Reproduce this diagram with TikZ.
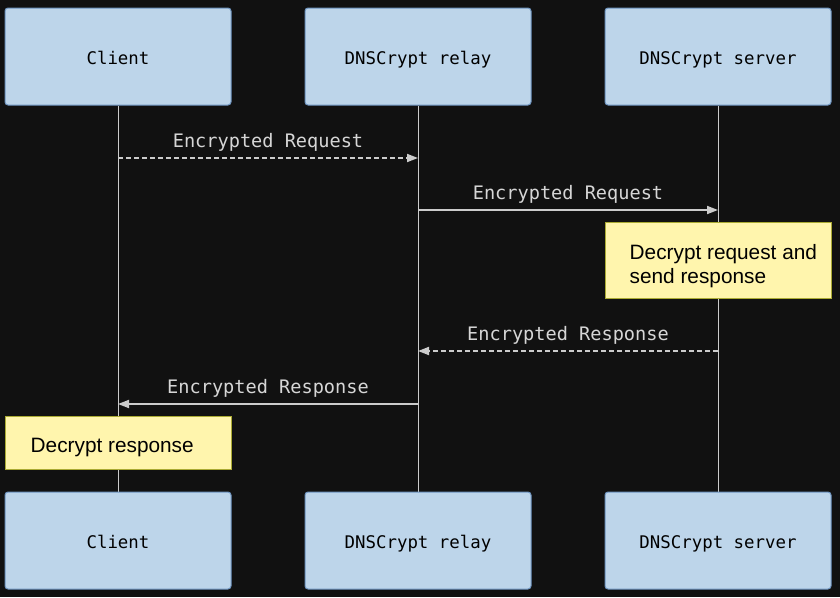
\documentclass[tikz,border=0pt]{standalone}
\usepackage{fontspec}
\setmainfont{Liberation Sans}
\setmonofont{DejaVu Sans Mono}
\usetikzlibrary{arrows.meta}
\pgfdeclarelayer{bg}
\pgfsetlayers{bg,main}
\definecolor{bgdark}{HTML}{111111}
\definecolor{actorfill}{HTML}{BDD5EA}
\definecolor{actorline}{HTML}{6E94C0}
\definecolor{notefill}{HTML}{FFF5AD}
\definecolor{noteline}{HTML}{AAAA33}
\definecolor{msgline}{HTML}{CCCCCC}
\tikzset{actor/.style={draw=actorline, fill=actorfill, line width=1pt, rounded corners=3pt,
        minimum width=226pt, minimum height=97pt, inner sep=0pt, text height=16pt, text depth=0pt,
        font=\ttfamily\fontsize{17.4}{20}\selectfont}}
\tikzset{note/.style={draw=noteline, fill=notefill, line width=1pt, minimum width=226pt, inner sep=0pt}}
\tikzset{notetext/.style={anchor=west, align=left, inner sep=0pt, text=black,
        font=\fontsize{20.8}{23.5}\selectfont}}
\tikzset{life/.style={draw=msgline, line width=0.7pt}}
\tikzset{msg/.style={draw=msgline, line width=1.8pt, -{Triangle[length=11pt, width=8pt]}}}
\tikzset{reply/.style={msg, dash pattern=on 5pt off 3pt}}
\tikzset{msglabel/.style={text=msgline!80!white, inner sep=0pt, font=\ttfamily\fontsize{18.6}{22}\selectfont}}

\begin{document}
\begin{tikzpicture}[x=1pt, y=-1pt]
    \begin{pgfonlayer}{bg}
        \fill[bgdark] (0,0) rectangle (840,597);
    \end{pgfonlayer}
    \useasboundingbox (0,0) rectangle (840,597);

    \node (client) [actor] at (118,56.5) {Client};
    \node (relay) [actor] at (418,56.5) {DNSCrypt relay};
    \node (server) [actor] at (718,56.5) {DNSCrypt server};

    \node (clientb) [actor] at (118,540.5) {Client};
    \node (relayb) [actor] at (418,540.5) {DNSCrypt relay};
    \node (serverb) [actor] at (718,540.5) {DNSCrypt server};

    \begin{pgfonlayer}{bg}
        \draw[life] (client) -- (clientb);
        \draw[life] (relay) -- (relayb);
        \draw[life] (server) -- (serverb);
    \end{pgfonlayer}

    \coordinate (reqc) at (118,158);
    \coordinate (reqr) at (418,158);
    \coordinate (fwdr) at (418,210);
    \coordinate (fwds) at (718,210);
    \coordinate (resps) at (718,351);
    \coordinate (respr) at (418,351);
    \coordinate (backr) at (418,404);
    \coordinate (backc) at (118,404);

    \draw[reply] (reqc) -- node[msglabel, yshift=15.5pt] {Encrypted Request} (reqr);
    \draw[msg] (fwdr) -- node[msglabel, yshift=15.5pt] {Encrypted Request} (fwds);

    \node (decreq) [note, minimum height=76pt] at (718,260) {};
    \node (decreqtxt) [notetext] at ([xshift=25pt, yshift=-6pt]decreq.west) {Decrypt request and\\send response};

    \draw[reply] (resps) -- node[msglabel, yshift=15.5pt] {Encrypted Response} (respr);
    \draw[msg] (backr) -- node[msglabel, yshift=15.5pt] {Encrypted Response} (backc);

    \node (decresp) [note, minimum height=53pt] at (118,442.5) {};
    \node (decresptxt) [notetext] at ([xshift=26pt, yshift=-4.5pt]decresp.west) {Decrypt response};
\end{tikzpicture}
\end{document}
